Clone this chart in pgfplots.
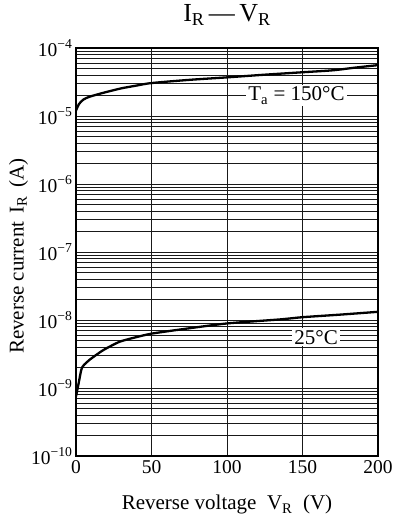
\documentclass[border=0pt]{standalone}
\usepackage{fontspec}
\setmainfont{Liberation Serif}
\usepackage{pgfplots}
\pgfplotsset{compat=1.18}
\begin{document}
\begin{tikzpicture}
\begin{axis}[
  name=ax,
  at={(0,0)}, anchor=south west,
  scale only axis,
  width=302pt, height=408pt,
  xmin=0, xmax=200,
  ymode=log, log basis y=10,
  ymin=1e-10, ymax=1e-4,
  xtick={0,50,100,150,200},
  xticklabels={0,50,100,150,200},
  ytick={1e-10,1e-9,1e-8,1e-7,1e-6,1e-5,1e-4},
  yticklabels={10\textsuperscript{−10},10\textsuperscript{−9},10\textsuperscript{−8},10\textsuperscript{−7},10\textsuperscript{−6},10\textsuperscript{−5},10\textsuperscript{−4}},
  minor ytick={2e-10,3e-10,4e-10,5e-10,6e-10,7e-10,8e-10,9e-10,
               2e-9,3e-9,4e-9,5e-9,6e-9,7e-9,8e-9,9e-9,
               2e-8,3e-8,4e-8,5e-8,6e-8,7e-8,8e-8,9e-8,
               2e-7,3e-7,4e-7,5e-7,6e-7,7e-7,8e-7,9e-7,
               2e-6,3e-6,4e-6,5e-6,6e-6,7e-6,8e-6,9e-6,
               2e-5,3e-5,4e-5,5e-5,6e-5,7e-5,8e-5,9e-5},
  major tick length=0pt, minor tick length=0pt,
  xmajorgrids, ymajorgrids, yminorgrids,
  grid style={black!90, line width=0.6pt},
  minor grid style={black!90, line width=0.6pt},
  axis line style={line width=1.1pt},
  tick label style={font=\fontsize{19.5}{22}\selectfont},
  xticklabel style={yshift=-1pt},
  yticklabel style={xshift=0pt},
  label style={font=\fontsize{21}{24}\selectfont},
  xlabel={Reverse voltage\hspace{0.5em}V\textsubscript{R}\hspace{0.5em}(V)},
  xlabel style={at={(axis description cs:0.5,-0.12)}, anchor=center},
  ylabel={Reverse current\hspace{0.4em}I\textsubscript{R}\hspace{0.4em}(A)},
  ylabel style={at={(axis description cs:-0.19,0.49)}, anchor=center},
  title={I\textsubscript{R}\,—\,V\textsubscript{R}},
  title style={at={(axis description cs:0.5,1)}, yshift=27pt, anchor=center, font=\fontsize{26}{30}\selectfont},
  clip=true,
]
\addplot[black, line width=2.3pt, smooth, tension=0.5] coordinates {
 (0,1.2e-5) (2,1.5e-5) (5,1.75e-5) (9,1.92e-5) (15,2.1e-5) (20,2.25e-5)
 (30,2.55e-5) (40,2.8e-5) (50,3.05e-5) (75,3.4e-5) (100,3.7e-5)
 (125,4.05e-5) (150,4.4e-5) (170,4.7e-5) (185,5.15e-5) (200,5.6e-5)
};
\addplot[black, line width=2.3pt, smooth, tension=0.4] coordinates {
 (0,7.5e-10) (1.5,1.1e-9) (3.5,1.85e-9) (5,2.15e-9) (9,2.6e-9) (18,3.6e-9)
 (29,4.8e-9) (40,5.6e-9) (50,6.3e-9) (70,7.3e-9) (100,8.9e-9)
 (135,1.02e-8) (150,1.1e-8) (175,1.2e-8) (200,1.32e-8)
};
\node[fill=white, inner sep=2pt, font=\fontsize{21}{24}\selectfont] at (axis cs:146,2e-5) {T\textsubscript{a} = 150°C};
\node[fill=white, inner sep=2pt, font=\fontsize{21}{24}\selectfont] at (axis cs:159,5.6e-9) {25°C};
\end{axis}
\pgfresetboundingbox
\useasboundingbox (-76pt,-68pt) rectangle (318pt,456pt);
\end{tikzpicture}
\end{document}
